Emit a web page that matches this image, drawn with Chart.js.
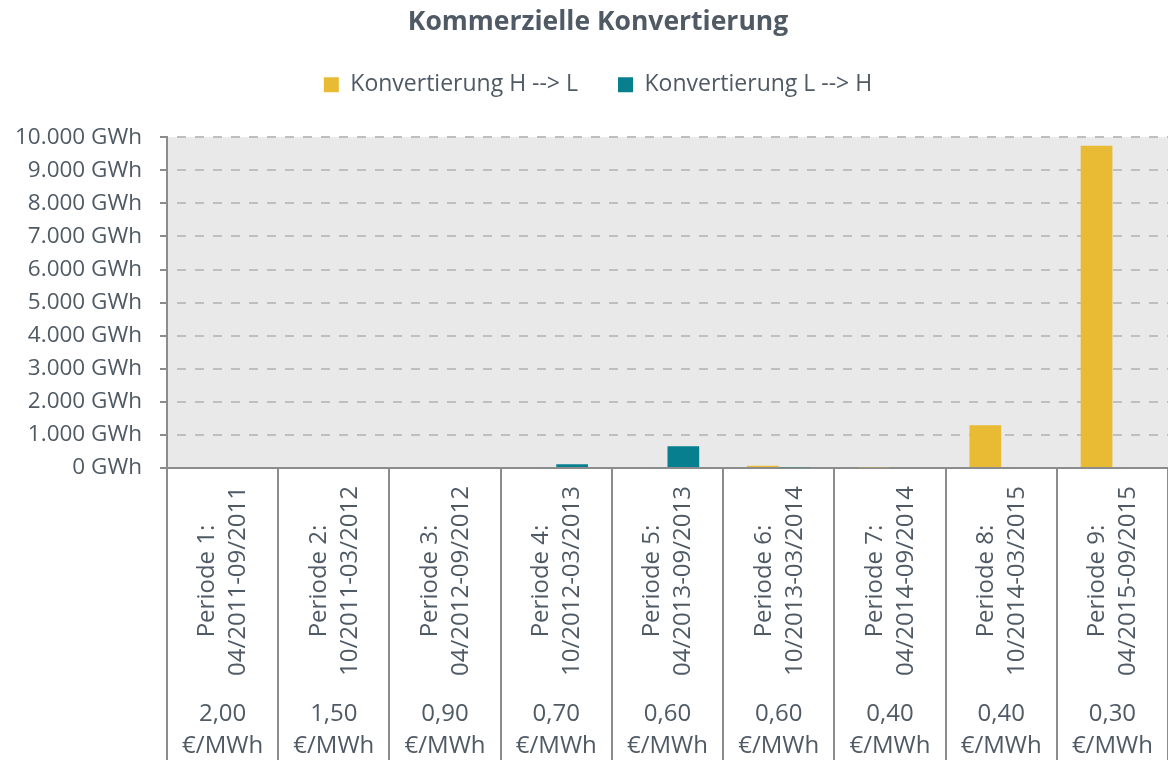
<!DOCTYPE html>
<html>
<head>
<meta charset="utf-8">
<title>Kommerzielle Konvertierung</title>
<script src="https://cdn.jsdelivr.net/npm/chart.js@4.4.1/dist/chart.umd.min.js"></script>
<style>
  html, body { margin: 0; padding: 0; background: #fff; }
  #wrap { width: 1168px; height: 760px; }
</style>
</head>
<body>
<div id="wrap"><canvas id="myChart"></canvas></div>
<script>
'use strict';

// data
var periodNames = ['Periode 1:', 'Periode 2:', 'Periode 3:', 'Periode 4:', 'Periode 5:',
  'Periode 6:', 'Periode 7:', 'Periode 8:', 'Periode 9:'];
var periodRanges = ['04/2011-09/2011', '10/2011-03/2012', '04/2012-09/2012', '10/2012-03/2013',
  '04/2013-09/2013', '10/2013-03/2014', '04/2014-09/2014', '10/2014-03/2015', '04/2015-09/2015'];
var prices = ['2,00', '1,50', '0,90', '0,70', '0,60', '0,60', '0,40', '0,40', '0,30'];
var priceUnit = '€/MWh';
var convHL = [0, 0, 0, 0, 0, 70, 25, 1290, 9740];
var convLH = [0, 0, 0, 115, 655, 25, 0, 0, 0];
var yMax = 10000;
var yStep = 1000;
var yUnit = ' GWh';

var textColor = '#4f5a65';
var axisColor = '#8c8c8c';
var gridColor = '#bfbfbf';

Chart.defaults.font.family = '"Open Sans", sans-serif';

function formatThousands(v) {
  return String(v).replace(/\B(?=(\d{3})+(?!\d))/g, '.');
}

// grauer hintergrund im plotbereich
var plotBackground = {
  id: 'plotBackground',
  beforeDraw: function (chart) {
    var a = chart.chartArea;
    var ctx = chart.ctx;
    ctx.save();
    ctx.fillStyle = '#e8e9e8';
    ctx.fillRect(a.left, a.top, a.right - a.left, a.bottom - a.top);
    ctx.restore();
  }
};

// legende hoeher machen -> plot beginnt tiefer
var legendHeight = {
  id: 'legendHeight',
  beforeInit: function (chart) {
    var fit = chart.legend.fit;
    chart.legend.fit = function () {
      fit.call(this);
      this.height = 104;
    };
  }
};

// titel + legende wie im original leicht nach rechts
var shiftHeader = {
  id: 'shiftHeader',
  afterLayout: function (chart) {
    chart.titleBlock.left += 28;
    chart.legend.left += 28;
  }
};

// kategorie-beschriftung: periode gedreht, preis darunter
var periodLabels = {
  id: 'periodLabels',
  afterDraw: function (chart) {
    var ctx = chart.ctx;
    var xs = chart.scales.x;
    var top = xs.top;
    ctx.save();
    ctx.fillStyle = textColor;
    ctx.font = '24px "Open Sans"';
    ctx.textAlign = 'center';
    periodNames.forEach(function (name, i) {
      var x = xs.getPixelForValue(i);
      ctx.save();
      ctx.translate(x, top + 113);
      ctx.rotate(-Math.PI / 2);
      ctx.textBaseline = 'middle';
      ctx.fillText(name, 0, -15);
      ctx.fillText(periodRanges[i], 0, 16);
      ctx.restore();
      ctx.textBaseline = 'alphabetic';
      ctx.fillText(prices[i], x, top + 253);
      ctx.fillText(priceUnit, x, top + 285);
    });
    ctx.restore();
  }
};

var ctx = document.getElementById('myChart').getContext('2d');
var chart = new Chart(ctx, {
  type: 'bar',
  data: {
    labels: periodNames,
    datasets: [{
      label: 'Konvertierung H --> L',
      data: convHL,
      backgroundColor: '#e9bb35',
      borderWidth: 0,
      categoryPercentage: 0.57,
      barPercentage: 1
    },
    {
      label: 'Konvertierung L --> H',
      data: convLH,
      backgroundColor: '#077f8e',
      borderWidth: 0,
      categoryPercentage: 0.57,
      barPercentage: 1
    }]
  },
  options: {
    responsive: true,
    maintainAspectRatio: false,
    animation: false,
    layout: { padding: 0 },
    plugins: {
      title: {
        display: true,
        text: 'Kommerzielle Konvertierung',
        color: textColor,
        font: { size: 26.5, weight: 'bold', lineHeight: 0.8 },
        padding: { top: 12, bottom: 0 }
      },
      legend: {
        labels: {
          color: textColor,
          font: { size: 23 },
          boxWidth: 15,
          boxHeight: 15,
          padding: 40
        }
      },
      tooltip: { enabled: false }
    },
    scales: {
      x: {
        grid: {
          offset: true,
          drawOnChartArea: false,
          tickLength: 292,
          color: axisColor,
          lineWidth: 2
        },
        border: { color: axisColor, width: 2 },
        ticks: { display: false },
        afterFit: function (s) { s.height = 292; }
      },
      y: {
        min: 0,
        max: yMax,
        ticks: {
          stepSize: yStep,
          color: textColor,
          font: { size: 22.5 },
          padding: 18,
          callback: function (v) { return formatThousands(v) + yUnit; }
        },
        grid: {
          color: function (c) { return c.tick && c.tick.value === 0 ? 'rgba(0,0,0,0)' : gridColor; },
          lineWidth: 2,
          tickLength: 7,
          tickColor: axisColor,
          tickWidth: 2
        },
        border: { color: axisColor, width: 2, dash: [9, 9], dashOffset: 9 },
        afterFit: function (s) { s.width = 167; }
      }
    }
  },
  plugins: [plotBackground, legendHeight, shiftHeader, periodLabels]
});
</script>
</body>
</html>
